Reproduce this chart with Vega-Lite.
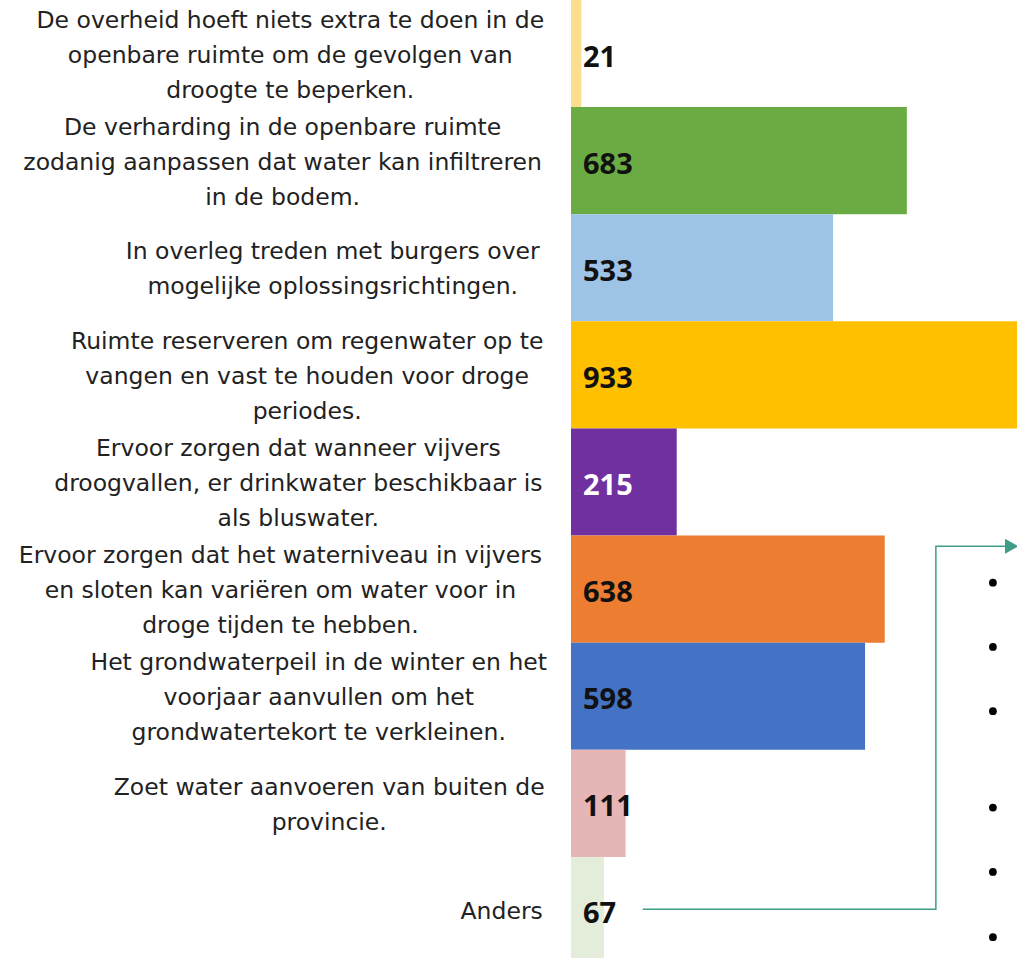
{
  "$schema": "https://vega.github.io/schema/vega-lite/v6.json",
  "width": 446,
  "height": 964,
  "autosize": {"type": "none"},
  "padding": {"left": 571, "top": 0, "right": 0, "bottom": 0},
  "background": "white",
  "config": {"view": {"stroke": null}},
  "layer": [
    {
      "data": {
        "values": [
          {"label": "De overheid hoeft niets extra te doen in de|openbare ruimte om de gevolgen van|droogte te beperken.", "n": 21},
          {"label": "De verharding in de openbare ruimte|zodanig aanpassen dat water kan infiltreren|in de bodem.", "n": 683},
          {"label": "In overleg treden met burgers over|mogelijke oplossingsrichtingen.", "n": 533},
          {"label": "Ruimte reserveren om regenwater op te|vangen en vast te houden voor droge|periodes.", "n": 933},
          {"label": "Ervoor zorgen dat wanneer vijvers|droogvallen, er drinkwater beschikbaar is|als bluswater.", "n": 215},
          {"label": "Ervoor zorgen dat het waterniveau in vijvers|en sloten kan variëren om water voor in|droge tijden te hebben.", "n": 638},
          {"label": "Het grondwaterpeil in de winter en het|voorjaar aanvullen om het|grondwatertekort te verkleinen.", "n": 598},
          {"label": "Zoet water aanvoeren van buiten de|provincie.", "n": 111},
          {"label": "Anders", "n": 67}
        ]
      },
      "encoding": {
        "y": {
          "field": "label",
          "type": "nominal",
          "sort": null,
          "scale": {"paddingInner": 0, "paddingOuter": 0},
          "axis": {
            "title": null,
            "domain": false,
            "ticks": false,
            "labelExpr": "split(datum.label, '|')",
            "labelAlign": "center",
            "labelBaseline": "middle",
            "labelFont": "DejaVu Sans",
            "labelFontSize": 23.5,
            "labelLineHeight": 35,
            "labelPadding": {"expr": "28 + 23.5 * max(0.615*length(split(datum.label,'|')[0] || '') - 0.337*length(replace(split(datum.label,'|')[0] || '', /[^ijl]/g, '')) - 0.23*length(replace(split(datum.label,'|')[0] || '', /[^ftr]/g, '')) - 0.297*length(replace(split(datum.label,'|')[0] || '', /[^ .,]/g, '')) + 0.36*length(replace(split(datum.label,'|')[0] || '', /[^m]/g, '')) + 0.2*length(replace(split(datum.label,'|')[0] || '', /[^w]/g, '')) + 0.1*length(replace(split(datum.label,'|')[0] || '', /[^A-Z]/g, '')), 0.615*length(split(datum.label,'|')[1] || '') - 0.337*length(replace(split(datum.label,'|')[1] || '', /[^ijl]/g, '')) - 0.23*length(replace(split(datum.label,'|')[1] || '', /[^ftr]/g, '')) - 0.297*length(replace(split(datum.label,'|')[1] || '', /[^ .,]/g, '')) + 0.36*length(replace(split(datum.label,'|')[1] || '', /[^m]/g, '')) + 0.2*length(replace(split(datum.label,'|')[1] || '', /[^w]/g, '')) + 0.1*length(replace(split(datum.label,'|')[1] || '', /[^A-Z]/g, '')), 0.615*length(split(datum.label,'|')[2] || '') - 0.337*length(replace(split(datum.label,'|')[2] || '', /[^ijl]/g, '')) - 0.23*length(replace(split(datum.label,'|')[2] || '', /[^ftr]/g, '')) - 0.297*length(replace(split(datum.label,'|')[2] || '', /[^ .,]/g, '')) + 0.36*length(replace(split(datum.label,'|')[2] || '', /[^m]/g, '')) + 0.2*length(replace(split(datum.label,'|')[2] || '', /[^w]/g, '')) + 0.1*length(replace(split(datum.label,'|')[2] || '', /[^A-Z]/g, ''))) / 2"},
            "labelOffset": {"expr": "2 - (length(split(datum.label, '|')) - 1) * 17.5"},
            "labelColor": "#222222",
            "labelLimit": 0
          }
        }
      },
      "layer": [
        {
          "mark": {"type": "bar", "clip": true},
          "encoding": {
            "x": {"field": "n", "type": "quantitative", "scale": {"domain": [0, 907], "nice": false}, "axis": null},
            "color": {
              "field": "label",
              "type": "nominal",
              "sort": null,
              "scale": {"range": ["#FBDF8E", "#6AAB43", "#9DC3E6", "#FFC000", "#7030A0", "#ED7D31", "#4472C4", "#E6B5B5", "#E3EDDA"]},
              "legend": null
            }
          }
        },
        {
          "mark": {"type": "text", "align": "left", "baseline": "middle", "dx": 12, "dy": 4, "font": "Open Sans", "fontWeight": "bold", "fontSize": 29},
          "encoding": {
            "x": {"datum": 0, "type": "quantitative"},
            "text": {"field": "n", "type": "quantitative"},
            "color": {"condition": {"test": "datum.n === 215", "value": "#ffffff"}, "value": "#111111"}
          }
        }
      ]
    },
    {
      "layer": [
        {
          "data": {"values": [
            {"px": 146, "py": 8.49, "o": 1},
            {"px": 742, "py": 8.49, "o": 2},
            {"px": 742, "py": 5.1, "o": 3},
            {"px": 890, "py": 5.1, "o": 4}
          ]},
          "mark": {"type": "line", "color": "#3F9C88", "strokeWidth": 1.5},
          "encoding": {
            "x": {"field": "px", "type": "quantitative"},
            "y": {"field": "py", "type": "quantitative", "scale": {"domain": [0, 9], "reverse": true, "nice": false, "zero": false}, "axis": null},
            "order": {"field": "o", "type": "quantitative"}
          }
        },
        {
          "data": {"values": [{"px": 896, "py": 5.1}]},
          "mark": {"type": "point", "shape": "triangle-right", "filled": true, "color": "#3F9C88", "size": 230, "opacity": 1},
          "encoding": {
            "x": {"field": "px", "type": "quantitative"},
            "y": {"field": "py", "type": "quantitative"}
          }
        },
        {
          "data": {"values": [
            {"px": 858, "py": 5.44},
            {"px": 858, "py": 6.04},
            {"px": 858, "py": 6.64},
            {"px": 858, "py": 7.54},
            {"px": 858, "py": 8.14},
            {"px": 858, "py": 8.75}
          ]},
          "mark": {"type": "circle", "color": "#000000", "size": 60, "opacity": 1},
          "encoding": {
            "x": {"field": "px", "type": "quantitative"},
            "y": {"field": "py", "type": "quantitative"}
          }
        }
      ]
    }
  ],
  "resolve": {"scale": {"y": "independent"}, "axis": {"y": "independent"}}
}
